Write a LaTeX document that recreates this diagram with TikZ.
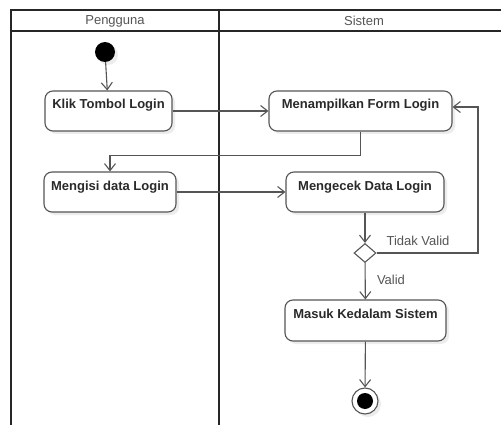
\documentclass[tikz,border=0pt]{standalone}
\usepackage{fontspec}
\setmainfont{Liberation Sans}
\usetikzlibrary{arrows.meta,shapes.geometric,shadows}
\definecolor{ln}{HTML}{555555}
\definecolor{tx}{HTML}{2A2A2A}
\begin{document}
\begin{tikzpicture}[x=1pt,y=-1pt,
  lane/.style={line width=1.8pt,black!85},
  act/.style={draw=ln,line width=1.1pt,rounded corners=8pt,fill=white,
    drop shadow={opacity=0.15,shadow xshift=3pt,shadow yshift=-3pt},
    font=\fontsize{13}{15}\selectfont\bfseries,text=tx,
    inner sep=4pt,text height=14pt,text depth=18pt,anchor=center},
  arr/.style={draw=ln,line width=1.1pt,-{Straight Barb[length=7pt,width=11pt]}},
  hdr/.style={font=\fontsize{13}{15}\selectfont,text=ln},
  lbl/.style={font=\fontsize{13}{15}\selectfont,text=ln}]
\useasboundingbox (0,0) rectangle (501,425);
\fill[white] (0,0) rectangle (501,425);
% swimlanes
\draw[lane] (501,10) -- (11,10) -- (11,425);
\draw[lane] (11,31) -- (501,31);
\draw[lane] (219,10) -- (219,425);
\node[hdr] (h1) at (115,21) {Pengguna};
\node[hdr] (h2) at (364,21) {Sistem};
% nodes
\node[circle,fill=black,minimum size=20pt,inner sep=0pt,
  drop shadow={opacity=0.15,shadow xshift=3pt,shadow yshift=-3pt}] (start) at (105,52) {};
\node[act,minimum width=127pt,minimum height=40pt] (klik) at (108.5,111) {Klik Tombol Login};
\node[act,minimum width=183pt,minimum height=40pt] (tampil) at (360.5,111) {Menampilkan Form Login};
\node[act,minimum width=132pt,minimum height=40pt] (isi) at (110,192) {Mengisi data Login};
\node[act,minimum width=158pt,minimum height=40pt] (cek) at (365,192) {Mengecek Data Login};
\node[diamond,draw=ln,line width=1.1pt,fill=white,minimum width=22pt,minimum height=19pt,inner sep=0pt] (dec) at (365,253) {};
\node[act,minimum width=161pt,minimum height=41pt] (masuk) at (365.5,320.5) {Masuk Kedalam Sistem};
\node[circle,draw=ln,line width=1.1pt,fill=white,minimum size=26pt,inner sep=0pt,
  drop shadow={opacity=0.15,shadow xshift=3pt,shadow yshift=-3pt},
  path picture={\fill[black] (path picture bounding box.center) circle (8pt);}] (end) at (365,401) {};
% labels
\node[lbl] (ltv) at (418,241) {Tidak Valid};
\node[lbl] (lv) at (391,280) {Valid};
% connectors
\draw[arr] (start) -- (klik);
\draw[arr] (klik) -- (tampil);
\draw[arr] (tampil.south) -- ++(0,24) -| (isi.north);
\draw[arr] (isi) -- (cek);
\draw[arr] (cek) -- (dec);
\coordinate (corner) at (478,253);
\draw[arr] (dec.east) -- (corner) |- ([yshift=4pt]tampil.east);
\draw[arr] (dec) -- (masuk);
\draw[arr] (masuk) -- (end);
\end{tikzpicture}
\end{document}
